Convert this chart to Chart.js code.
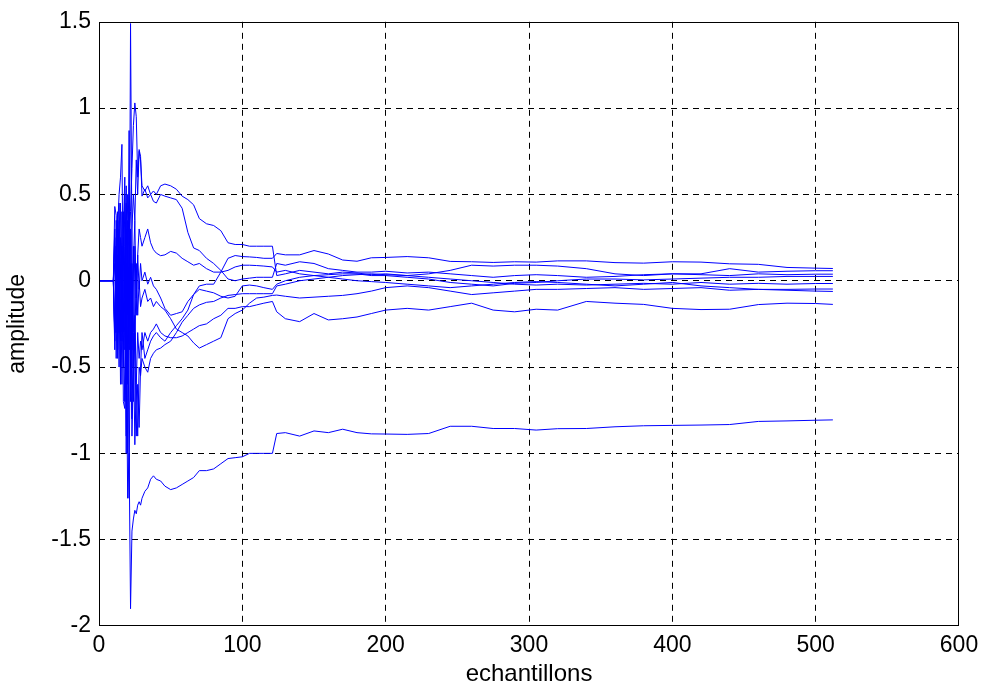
<!DOCTYPE html>
<html>
<head>
<meta charset="utf-8">
<script src="https://cdn.jsdelivr.net/npm/chart.js@4.4.0/dist/chart.umd.min.js"></script>
<style>
  html, body { margin: 0; padding: 0; background: #fff; }
</style>
</head>
<body>
<canvas id="plot" width="986" height="691"></canvas>
<script>
// DATA
const echantillons = [0, 10, 11, 12, 13, 14, 15, 16, 17, 18, 19, 20, 21, 22, 23, 24, 25, 26, 27, 28, 29, 30, 32, 34, 36, 38,
  40, 43, 46, 50, 54, 58, 62, 66, 70, 75, 80, 85, 90, 95, 100, 105, 110, 115, 121, 124,
  130, 140, 150, 160, 170, 180, 190, 200, 215, 230, 245, 260, 275, 290, 305,
  320, 340, 360, 380, 400, 420, 440, 460, 480, 500, 512];

const coef1 = [0, 0, 0.43, 0.38, -0.2, 0.3, -0.35, 0.2, -0.5, 0.1, -0.6, 0.35, -0.4, 1.49, 0.2, -0.7, -0.3, -0.9, -0.6, -0.85, -0.5, -0.3, -0.45, -0.4, -0.35, -0.32,
  -0.3, -0.33, -0.35, -0.3, -0.26, -0.22, -0.17, -0.08, -0.03, -0.02, -0.02, 0.05, 0.13, 0.146, 0.14, 0.138, 0.135, 0.13, 0.13, 0.158,
  0.15, 0.15, 0.175, 0.155, 0.12, 0.113, 0.133, 0.135, 0.14, 0.133, 0.112, 0.11, 0.106, 0.11, 0.108,
  0.115, 0.115, 0.105, 0.102, 0.11, 0.108, 0.098, 0.095, 0.077, 0.073, 0.071];
const coef2 = [0, 0, 0.1, -0.3, 0.35, -0.1, 0.45, -0.2, 0.3, 0.6, -0.3, 0.5, 0.2, 0.4, 0.65, 0.9, 1.03, 0.95, 0.6, 0.75, 0.7, 0.55, 0.52, 0.55, 0.5, 0.52,
  0.5, 0.55, 0.56, 0.55, 0.53, 0.49, 0.47, 0.44, 0.36, 0.33, 0.32, 0.29, 0.22, 0.21, 0.21, 0.2, 0.2, 0.2, 0.2, 0.03,
  0.04, 0.06, 0.05, 0.04, 0.05, 0.045, 0.035, 0.04, 0.03, 0.04, 0.06, 0.09, 0.085, 0.09, 0.09,
  0.085, 0.07, 0.04, 0.03, 0.04, 0.04, 0.07, 0.05, 0.055, 0.058, 0.058];
const coef3 = [0, 0, -0.35, 0.2, -0.4, 0.45, 0.1, -0.3, 0.25, -0.1, 0.55, -0.2, 0.87, -0.6, 0.3, 0.5, 0.35, 0.7, 0.5, 0.76, 0.72, 0.49, 0.53, 0.48, 0.5, 0.46,
  0.45, 0.5, 0.49, 0.48, 0.47, 0.42, 0.28, 0.19, 0.175, 0.13, 0.1, 0.06, 0.01, 0.0, 0.01, 0.015, 0.02, 0.02, 0.02, 0.1,
  0.09, 0.11, 0.1, 0.07, 0.06, 0.05, 0.05, 0.055, 0.045, 0.05, 0.04, 0.03, 0.02, 0.03, 0.035,
  0.03, 0.02, 0.025, 0.035, 0.04, 0.035, 0.03, 0.04, 0.035, 0.038, 0.038];
const coef4 = [0, 0, 0.25, -0.2, 0.3, 0.5, 0.6, 0.79, -0.25, 0.2, 0.45, -0.5, 0.0, 0.3, -0.4, 0.1, 0.35, -0.2, 0.15, 0.3, 0.25, 0.2, 0.25, 0.3, 0.22, 0.18,
  0.16, 0.145, 0.15, 0.17, 0.16, 0.13, 0.11, 0.09, 0.1, 0.07, 0.05, 0.05, 0.06, 0.08, 0.09, 0.09, 0.088, 0.085, 0.08, 0.05,
  0.06, 0.04, 0.03, 0.035, 0.04, 0.04, 0.03, 0.03, 0.02, 0.01, -0.01, -0.02, -0.03, -0.015, -0.01,
  0.0, 0.01, 0.01, 0.005, 0.01, 0.015, 0.02, 0.02, 0.025, 0.025, 0.025];
const coef5 = [0, 0, -0.3, 0.35, -0.45, 0.2, -0.3, 0.4, -0.7, -0.74, 0.1, -0.6, 0.3, -0.5, -0.8, -0.3, -0.95, -0.6, -0.9, -0.5, -0.55, -0.45, -0.5, -0.53, -0.45, -0.42,
  -0.4, -0.39, -0.37, -0.35, -0.3, -0.24, -0.2, -0.16, -0.14, -0.125, -0.12, -0.1, -0.085, -0.08, -0.075, -0.075, -0.075, -0.075, -0.075, -0.03,
  -0.02, 0.0, 0.01, 0.02, 0.03, 0.035, 0.04, 0.035, 0.03, 0.02, 0.01, 0.0, -0.01, -0.02, -0.025,
  -0.02, -0.025, -0.02, -0.015, -0.02, -0.01, -0.02, -0.015, -0.02, -0.016, -0.016];
const coef6 = [0, 0, 0.3, -0.1, 0.15, -0.5, 0.25, -0.35, 0.4, -0.3, -0.9, 0.3, -1.26, 0.1, -0.5, 0.2, -0.4, 0.1, -0.2, 0.0, -0.15, -0.1, -0.05, -0.12, -0.1, -0.15,
  -0.12, -0.15, -0.17, -0.22, -0.28, -0.3, -0.32, -0.36, -0.39, -0.37, -0.35, -0.33, -0.22, -0.19, -0.17, -0.13, -0.1, -0.095, -0.085, -0.083,
  -0.09, -0.1, -0.095, -0.09, -0.085, -0.075, -0.06, -0.04, -0.03, -0.04, -0.06, -0.08, -0.07, -0.06, -0.05,
  -0.05, -0.045, -0.04, -0.05, -0.045, -0.04, -0.055, -0.05, -0.05, -0.048, -0.048];
const coef7 = [0, 0, -0.4, 0.15, 0.4, -0.3, 0.1, -0.6, 0.2, -0.4, 0.3, -1.0, 0.4, -0.7, 0.1, -0.3, 0.2, -0.1, 0.15, -0.05, 0.1, 0.0, 0.05, -0.02, 0.02, -0.03,
  -0.05, -0.1, -0.16, -0.2, -0.19, -0.18, -0.12, -0.08, -0.05, -0.06, -0.07, -0.09, -0.1, -0.09, -0.03, -0.025, -0.03, -0.04, -0.05, -0.02,
  0.0, 0.02, 0.03, 0.02, 0.01, 0.0, -0.005, -0.01, -0.02, -0.03, -0.04, -0.03, -0.02, -0.01, -0.005,
  -0.01, -0.02, -0.03, -0.02, -0.01, -0.03, -0.04, -0.05, -0.055, -0.06, -0.062];
const coef8 = [0, 0, 0.2, -0.45, 0.1, 0.35, -0.6, 0.2, -0.3, 0.5, -1.0, 0.2, -0.4, 0.3, -0.9, -0.5, -0.2, -0.6, -0.3, -0.45, -0.35, -0.4, -0.3, -0.35, -0.3, -0.28,
  -0.25, -0.3, -0.32, -0.33, -0.33, -0.32, -0.3, -0.28, -0.26, -0.25, -0.22, -0.2, -0.16, -0.16, -0.15, -0.15, -0.14, -0.13, -0.12, -0.18,
  -0.22, -0.237, -0.19, -0.227, -0.22, -0.21, -0.19, -0.17, -0.16, -0.17, -0.15, -0.13, -0.17, -0.18, -0.165,
  -0.17, -0.12, -0.13, -0.137, -0.16, -0.167, -0.165, -0.138, -0.13, -0.132, -0.137];
const coef9 = [0, 0, -0.3, 0.1, -0.4, 0.2, -0.5, 0.0, -0.3, -0.7, -0.2, -1.26, -1.0, -1.9, -1.45, -1.38, -1.33, -1.35, -1.3, -1.28, -1.3, -1.26, -1.22, -1.2, -1.15, -1.13,
  -1.15, -1.16, -1.19, -1.21, -1.2, -1.18, -1.16, -1.14, -1.1, -1.1, -1.09, -1.06, -1.03, -1.025, -1.02, -1.0, -1.0, -1.0, -1.0, -0.885,
  -0.88, -0.9, -0.87, -0.88, -0.86, -0.88, -0.887, -0.888, -0.89, -0.885, -0.843, -0.843, -0.856, -0.856, -0.865,
  -0.857, -0.856, -0.846, -0.84, -0.838, -0.836, -0.833, -0.815, -0.812, -0.808, -0.806];

const series = [coef1, coef2, coef3, coef4, coef5, coef6, coef7, coef8, coef9];

const xTicks = [0, 100, 200, 300, 400, 500, 600];
const yTicks = [-2, -1.5, -1, -0.5, 0, 0.5, 1, 1.5];

// CADRE (boite noire autour des axes)
const framePlugin = {
    id: 'frame',
    afterDraw(chart) {
        const a = chart.chartArea;
        const c = chart.ctx;
        c.save();
        c.strokeStyle = '#000';
        c.lineWidth = 1;
        c.setLineDash([]);
        c.strokeRect(Math.round(a.left) + 0.5, Math.round(a.top) + 0.5,
            Math.round(a.right - a.left) - 1, Math.round(a.bottom - a.top) - 1);
        c.restore();
    }
};

// pas de quadrillage sur les bords (le cadre les remplace)
const gridColor = (min, max) => (ctx) =>
    (ctx.tick && (ctx.tick.value === min || ctx.tick.value === max)) ? 'rgba(0,0,0,0)' : '#000';

Chart.defaults.font.family = "'Liberation Sans', Arial, sans-serif";
Chart.defaults.font.size = 23;
Chart.defaults.color = '#000';

new Chart(document.getElementById('plot'), {
    type: 'line',
    data: {
        datasets: series.map((s, k) => ({
            label: 'coef' + (k + 1),
            data: echantillons.map((x, i) => ({x: x, y: s[i]})),
            borderColor: '#0000ff',
            borderWidth: 1,
            pointRadius: 0,
            tension: 0,
            fill: false
        }))
    },
    options: {
        responsive: false,
        animation: false,
        events: [],
        layout: {padding: {top: 20, right: 27, left: 0, bottom: 0}},
        plugins: {
            legend: {display: false},
            tooltip: {enabled: false}
        },
        scales: {
            x: {
                type: 'linear',
                min: 0, max: 600,
                afterBuildTicks: (s) => { s.ticks = xTicks.map(v => ({value: v})); },
                afterFit: (s) => { s.height = 65; },
                ticks: {padding: 6, maxRotation: 0, callback: (v) => String(v)},
                grid: {color: gridColor(0, 600), lineWidth: 1, drawTicks: false},
                border: {display: false, dash: [6, 5]},
                title: {display: true, text: 'echantillons', font: {size: 24}, padding: {top: 0, bottom: 2}}
            },
            y: {
                type: 'linear',
                min: -2, max: 1.5,
                afterBuildTicks: (s) => { s.ticks = yTicks.map(v => ({value: v})); },
                afterFit: (s) => { s.width = 99; },
                ticks: {padding: 8, callback: (v) => String(v)},
                grid: {color: gridColor(-2, 1.5), lineWidth: 1, drawTicks: false},
                border: {display: false, dash: [6, 5]},
                title: {display: true, text: 'amplitude', padding: {top: 4, bottom: 0}}
            }
        }
    },
    plugins: [framePlugin]
});
</script>
</body>
</html>
